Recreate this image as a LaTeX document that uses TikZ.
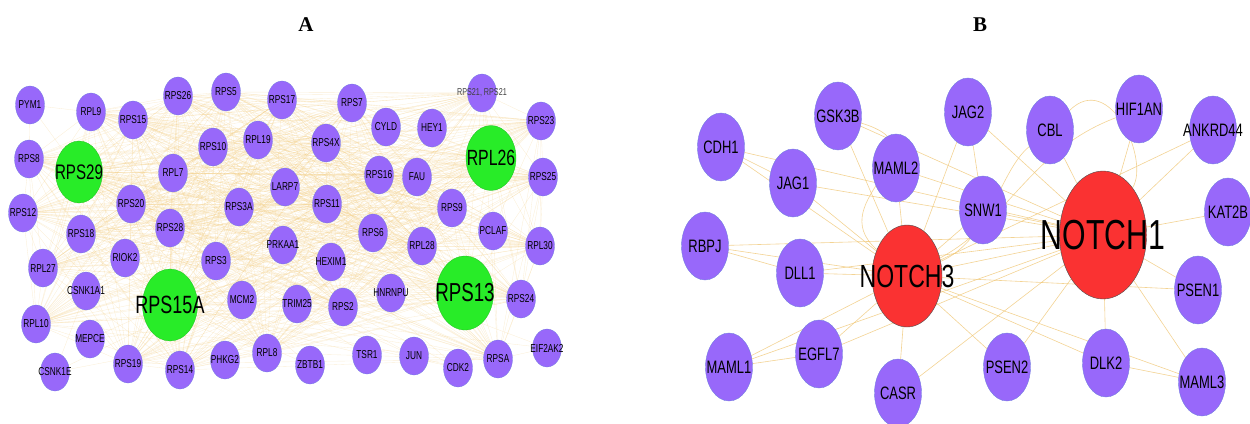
\documentclass[tikz,border=0pt]{standalone}
\usepackage{fontspec}
\setmainfont{Liberation Serif}
\newfontfamily\labfont[FakeStretch=0.72]{Liberation Sans}
\usetikzlibrary{shapes.geometric,backgrounds}
\definecolor{nodepurple}{RGB}{152,104,250}
\definecolor{nodeborder}{RGB}{115,125,225}
\definecolor{hubgreen}{RGB}{40,236,40}
\definecolor{hubred}{RGB}{250,50,50}
\definecolor{edgeorange}{RGB}{240,200,120}
\newcommand\gA[4]{\node[geneA, label={[labA]center:{#4}}] (#1) at (#2,#3) {};}
\newcommand\gB[4]{\node[geneB, label={[labB]center:{#4}}] (#1) at (#2,#3) {};}
\begin{document}
\begin{tikzpicture}[x=1pt,y=-1pt,
  geneA/.style={ellipse, fill=nodepurple, draw=nodeborder, line width=0.3pt, minimum width=29pt, minimum height=38pt, inner sep=0pt},
  geneB/.style={ellipse, fill=nodepurple, draw=nodeborder, line width=0.4pt, minimum width=47pt, minimum height=68pt, inner sep=0pt},
  labA/.style={inner sep=0pt, text=black, font=\labfont\fontsize{11.5}{11.5}\selectfont},
  labB/.style={inner sep=0pt, text=black, font=\labfont\fontsize{18}{18}\selectfont},
  hubA/.style={ellipse, fill=hubgreen, draw=hubgreen!80!black, line width=0.3pt, inner sep=0pt},
  hubB/.style={ellipse, fill=hubred, draw=black!70, line width=0.4pt, inner sep=0pt},
  hublab/.style={inner sep=0pt, text=black, font=\labfont\fontsize{#1}{#1}\selectfont},
  edgeA/.style={draw=edgeorange, line width=0.35pt, opacity=0.3},
  edgeB/.style={draw=edgeorange, line width=0.6pt, opacity=0.8},
  title/.style={font=\bfseries\fontsize{21}{21}\selectfont, inner sep=0pt}]
\useasboundingbox (0,0) rectangle (1250,423);
\clip (0,0) rectangle (1250,423);

\node[title] (titleA) at (306,25) {A};
\node[title] (titleB) at (980,25) {B};

% ---------------- Panel A ----------------
\node[hubA, minimum width=47pt, minimum height=62pt, label={[hublab=21]center:RPS29}] (RPS29) at (79,172) {};
\node[hubA, minimum width=50pt, minimum height=65pt, label={[hublab=22]center:RPL26}] (RPL26) at (491,158) {};
\node[hubA, minimum width=55pt, minimum height=72pt, label={[hublab=25]center:RPS15A}] (RPS15A) at (170,305) {};
\node[hubA, minimum width=57pt, minimum height=74pt, label={[hublab=26]center:RPS13}] (RPS13) at (465,293) {};

\gA{PYM1}{30}{105}{PYM1}
\gA{RPL9}{91}{112}{RPL9}
\gA{RPS15}{133}{120}{RPS15}
\gA{RPS26}{178}{96}{RPS26}
\gA{RPS5}{226}{92}{RPS5}
\gA{RPS17}{282}{100}{RPS17}
\gA{RPS7}{352}{103}{RPS7}
\node[geneA, label={[labA, font=\labfont\fontsize{10}{10}\selectfont, text=black!75]center:{RPS21, RPS21}}] (RPS21) at (482,93) {};
\gA{CYLD}{386}{127}{CYLD}
\gA{HEY1}{432}{128}{HEY1}
\gA{RPS23}{541}{121}{RPS23}
\gA{RPS8}{29}{159}{RPS8}
\gA{RPL7}{173}{173}{RPL7}
\gA{RPS10}{213}{147}{RPS10}
\gA{RPL19}{258}{140}{RPL19}
\gA{RPS4X}{326}{143}{RPS4X}
\gA{RPS16}{379}{175}{RPS16}
\gA{FAU}{417}{177}{FAU}
\gA{RPS25}{543}{177}{RPS25}
\gA{RPS12}{23}{213}{RPS12}
\gA{RPS20}{131}{204}{RPS20}
\gA{LARP7}{285}{187}{LARP7}
\gA{RPS3A}{239}{207}{RPS3A}
\gA{RPS11}{327}{204}{RPS11}
\gA{RPS9}{452}{208}{RPS9}
\gA{RPS28}{170}{228}{RPS28}
\gA{RPS18}{81}{234}{RPS18}
\gA{RPS6}{373}{233}{RPS6}
\gA{PCLAF}{493}{231}{PCLAF}
\gA{RPL28}{422}{246}{RPL28}
\gA{RPL30}{540}{246}{RPL30}
\gA{PRKAA1}{283}{245}{PRKAA1}
\gA{RIOK2}{125}{258}{RIOK2}
\gA{RPL27}{43}{268}{RPL27}
\gA{RPS3}{216}{261}{RPS3}
\gA{HEXIM1}{331}{262}{HEXIM1}
\gA{CSNK1A1}{86}{291}{CSNK1A1}
\gA{MCM2}{242}{300}{MCM2}
\gA{TRIM25}{297}{304}{TRIM25}
\gA{RPS2}{343}{307}{RPS2}
\gA{HNRNPU}{391}{293}{HNRNPU}
\gA{RPS24}{521}{299}{RPS24}
\gA{RPL10}{36}{324}{RPL10}
\gA{MEPCE}{90}{339}{MEPCE}
\gA{EIF2AK2}{547}{348}{EIF2AK2}
\gA{RPS19}{128}{364}{RPS19}
\gA{RPS14}{180}{370}{RPS14}
\gA{PHKG2}{225}{360}{PHKG2}
\gA{RPL8}{267}{353}{RPL8}
\gA{ZBTB1}{310}{365}{ZBTB1}
\gA{TSR1}{367}{355}{TSR1}
\gA{JUN}{414}{356}{JUN}
\gA{CDK2}{458}{368}{CDK2}
\gA{RPSA}{498}{359}{RPSA}
\gA{CSNK1E}{55}{372}{CSNK1E}

\begin{pgfonlayer}{background}
  \foreach \a [count=\i] in {RPL9,RPS15,RPS26,RPS5,RPS17,RPS7,RPS21,RPS23,RPS8,RPL7,RPS10,RPL19,RPS4X,RPS16,FAU,RPS25,RPS12,RPS20,RPS3A,RPS11,RPS9,RPS28,RPS18,RPS6,RPL28,RPL30,RPL27,RPS3,RPS2,RPS24,RPL10,RPS19,RPS14,RPL8,RPSA}{
    \foreach \b [count=\j] in {RPL9,RPS15,RPS26,RPS5,RPS17,RPS7,RPS21,RPS23,RPS8,RPL7,RPS10,RPL19,RPS4X,RPS16,FAU,RPS25,RPS12,RPS20,RPS3A,RPS11,RPS9,RPS28,RPS18,RPS6,RPL28,RPL30,RPL27,RPS3,RPS2,RPS24,RPL10,RPS19,RPS14,RPL8,RPSA}{
      \ifnum\j>\i \draw[edgeA] (\a) -- (\b); \fi
    }
    \foreach \h in {RPS29,RPL26,RPS15A,RPS13}{ \draw[edgeA] (\h) -- (\a); }
  }
  \foreach \a/\b in {RPS29/RPL26,RPS29/RPS15A,RPS29/RPS13,RPL26/RPS15A,RPL26/RPS13,RPS15A/RPS13}{
    \draw[edgeA] (\a) -- (\b);
  }
  \foreach \n/\h/\k in {PYM1/RPS29/RPL26,CYLD/RPS15A/RPS29,HEY1/RPS29/RPS15A,LARP7/RPS29/RPS13,PCLAF/RPS15A/RPS29,PRKAA1/RPS13/RPL26,RIOK2/RPS13/RPL26,HEXIM1/RPS29/RPS15A,CSNK1A1/RPS13/RPL26,MCM2/RPL26/RPS13,TRIM25/RPS29/RPS15A,HNRNPU/RPS15A/RPS29,MEPCE/RPS13/RPL26,EIF2AK2/RPS15A/RPS29,PHKG2/RPS13/RPL26,ZBTB1/RPS29/RPS15A,TSR1/RPS15A/RPS29,JUN/RPS15A/RPS29,CDK2/RPS29/RPS15A,CSNK1E/RPS13/RPL26}{
    \draw[edgeA] (\n) -- (\h);
    \draw[edgeA] (\n) -- (\k);
  }
  \foreach \a/\b in {CSNK1E/CSNK1A1,CDK2/JUN,PRKAA1/MCM2,HEXIM1/CDK2,TRIM25/JUN,PYM1/RPS8,EIF2AK2/RPSA}{
    \draw[edgeA] (\a) -- (\b);
  }
\end{pgfonlayer}

% ---------------- Panel B ----------------
\node[hubB, minimum width=70pt, minimum height=102pt, label={[hublab=32]center:NOTCH3}] (NOTCH3) at (907,276) {};
\node[hubB, minimum width=87pt, minimum height=128pt, label={[hublab=42]center:NOTCH1}] (NOTCH1) at (1103,235) {};
\gB{CDH1}{721}{147}{CDH1}
\gB{GSK3B}{838}{116}{GSK3B}
\gB{JAG1}{793}{183}{JAG1}
\gB{MAML2}{896}{168}{MAML2}
\gB{JAG2}{968}{112}{JAG2}
\gB{CBL}{1050}{130}{CBL}
\gB{HIF1AN}{1139}{109}{HIF1AN}
\gB{ANKRD44}{1213}{130}{ANKRD44}
\gB{SNW1}{983}{210}{SNW1}
\gB{KAT2B}{1228}{212}{KAT2B}
\gB{RBPJ}{705}{246}{RBPJ}
\gB{DLL1}{800}{273}{DLL1}
\gB{PSEN1}{1198}{290}{PSEN1}
\gB{EGFL7}{819}{354}{EGFL7}
\gB{MAML1}{729}{367}{MAML1}
\gB{CASR}{898}{393}{CASR}
\gB{PSEN2}{1007}{367}{PSEN2}
\gB{DLK2}{1106}{363}{DLK2}
\gB{MAML3}{1202}{382}{MAML3}

\begin{pgfonlayer}{background}
  \foreach \n in {CDH1,GSK3B,JAG1,MAML2,JAG2,SNW1,RBPJ,DLL1,PSEN1,EGFL7,MAML1,PSEN2,DLK2,MAML3,ANKRD44,CASR}{
    \draw[edgeB] (\n) -- (NOTCH1);
    \draw[edgeB] (\n) -- (NOTCH3);
  }
  \draw[edgeB] (NOTCH3) -- (NOTCH1);
  \draw[edgeB] (KAT2B) -- (NOTCH1);
  \draw[edgeB] (HIF1AN) -- (NOTCH1);
  \draw[edgeB] (CBL) -- (NOTCH1);
  \draw[edgeB] (CDH1) -- (JAG1);
  \draw[edgeB] (RBPJ) -- (DLL1);
  \draw[edgeB] (MAML1) -- (EGFL7);
  \draw[edgeB] (DLK2) -- (MAML3);
  \draw[edgeB] (HIF1AN) .. controls (1030,150) and (1010,220) .. (NOTCH3);
  \draw[edgeB] (CBL) .. controls (1110,70) and (1150,160) .. (NOTCH1);
  \draw[edgeB] (CBL) .. controls (1000,170) and (990,240) .. (NOTCH3);
  \draw[edgeB] (GSK3B) .. controls (950,150) and (820,200) .. (NOTCH3);
  \draw[edgeB] (JAG2) -- (SNW1);
\end{pgfonlayer}
\end{tikzpicture}
\end{document}
